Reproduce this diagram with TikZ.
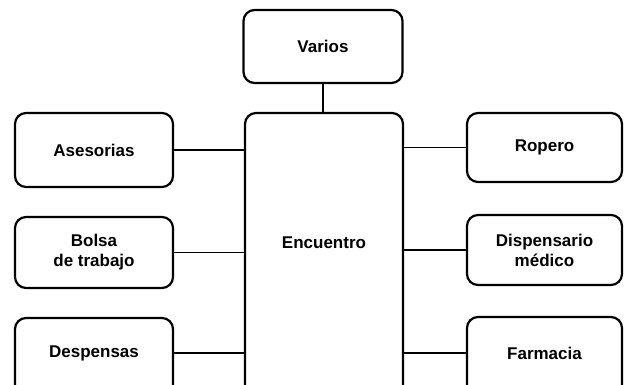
\documentclass[tikz,border=0pt]{standalone}
\usepackage{fontspec}
\setmainfont{Liberation Sans}
\begin{document}
\begin{tikzpicture}[x=1pt,y=-1pt,
  lbl/.style={font=\fontsize{17}{20}\selectfont\bfseries,align=center},
  box/.style={draw,line width=2.2pt,rounded corners=11pt,inner sep=0pt,lbl},
  conn/.style={line width=1.8pt}]
\useasboundingbox (0,0) rectangle (626,385);
\clip (0,0) rectangle (626,385);
\node[box,minimum width=159pt,minimum height=73pt] (varios) at (323,46.5) {Varios};
\node[box,minimum width=158pt,minimum height=300pt] (enc) at (324,263) {};
\node[lbl] (enctext) at (324,243) {Encuentro};
\node[box,minimum width=158pt,minimum height=74pt] (ases) at (94,150) {Asesorias};
\node[box,minimum width=158pt,minimum height=71pt] (bolsa) at (94,252.5) {Bolsa\\de trabajo};
\node[box,minimum width=158pt,minimum height=82pt] (desp) at (94,359) {};
\node[lbl] (desptext) at (94,353) {Despensas};
\node[box,minimum width=155pt,minimum height=69pt] (ropero) at (544.5,147.5) {Ropero};
\node[box,minimum width=155pt,minimum height=70pt] (disp) at (544.5,250) {Dispensario\\médico};
\node[box,minimum width=155pt,minimum height=82pt] (farm) at (544.5,358) {};
\node[lbl] (farmtext) at (544.5,353) {Farmacia};
\draw[conn] (varios.south) -- (varios.south |- enc.north);
\draw[conn] (ases.east) -- (ases.east -| enc.west);
\draw[conn] (bolsa.east) -- (bolsa.east -| enc.west);
\draw[conn] (desptext.east -| desp.east) -- (desptext.east -| enc.west);
\draw[conn] (ropero.west) -- (ropero.west -| enc.east);
\draw[conn] (disp.west) -- (disp.west -| enc.east);
\draw[conn] (farmtext.west -| farm.west) -- (farmtext.west -| enc.east);
\end{tikzpicture}
\end{document}
